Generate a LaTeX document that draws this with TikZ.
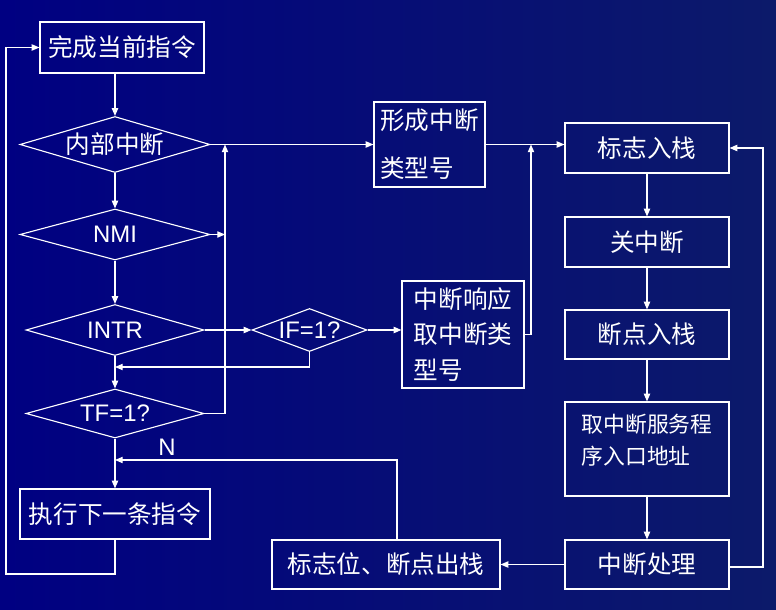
\documentclass[tikz,border=0pt]{standalone}
\usepackage{fontspec}
\setmainfont{Liberation Sans}
\newfontfamily\cjk{Noto Sans CJK SC}
\usetikzlibrary{shapes.geometric,arrows.meta}
\definecolor{slideNavy}{RGB}{0,0,130}
\definecolor{slideDusk}{RGB}{12,26,106}
\tikzset{
  stepBox/.style={draw=white,line width=0.8pt,text=white,inner sep=0pt,font=\cjk\fontsize{17.5}{20}\selectfont},
  testDiamond/.style={diamond,draw=white,line width=0.8pt,text=white,inner sep=0pt,font=\fontsize{17}{20}\selectfont},
  flowArrow/.style={draw=white,line width=0.8pt,-{Triangle[length=5.5pt,width=4.5pt]}},
  flowLine/.style={draw=white,line width=0.8pt}
}

\begin{document}
\begin{tikzpicture}[x=1cm,y=1cm]
\path[use as bounding box] (0,0) rectangle (19.40,-15.25);
\shade[left color=slideNavy,right color=slideDusk] (0,0) rectangle (19.40,-15.25);

% colonne des tests
\node[stepBox,minimum width=4.10cm,minimum height=1.275cm] (done) at (3.05,-1.1875) {完成当前指令};
\node[testDiamond,font=\cjk\fontsize{17.5}{20}\selectfont,minimum width=4.75cm,minimum height=1.40cm,shape aspect=3.39] (inner) at (2.875,-3.6125) {内部中断};
\node[testDiamond,minimum width=4.75cm,minimum height=1.275cm,shape aspect=3.73] (nmi) at (2.875,-5.8625) {NMI};
\node[testDiamond,minimum width=4.45cm,minimum height=1.275cm,shape aspect=3.49] (intr) at (2.875,-8.25) {INTR};
\node[testDiamond,minimum width=4.45cm,minimum height=1.225cm,shape aspect=3.63] (tf) at (2.875,-10.3375) {TF=1?};
\node[stepBox,minimum width=4.75cm,minimum height=1.25cm] (exec) at (2.875,-12.85) {执行下一条指令};
\node[text=white,font=\fontsize{17}{20}\selectfont] (labN) at (4.175,-11.175) {N};

% milieu
\node[testDiamond,minimum width=2.875cm,minimum height=1.075cm,shape aspect=2.67] (ifd) at (7.7375,-8.25) {IF=1?};
\node[stepBox,minimum width=2.775cm,minimum height=2.125cm,align=left,font=\cjk\fontsize{17.5}{34}\selectfont] (form) at (10.7375,-3.6125) {形成中断\\类型号};
\node[stepBox,minimum width=3.05cm,minimum height=2.675cm,align=left,font=\cjk\fontsize{17.5}{25.5}\selectfont] (resp) at (11.575,-8.3625) {中断响应\\取中断类\\型号};
\node[stepBox,minimum width=5.70cm,minimum height=1.225cm] (pop) at (9.65,-14.1125) {标志位、断点出栈};

% colonne de droite
\node[stepBox,minimum width=4.10cm,minimum height=1.25cm] (pushFlag) at (16.175,-3.70) {标志入栈};
\node[stepBox,minimum width=4.10cm,minimum height=1.25cm] (cli) at (16.175,-6.05) {关中断};
\node[stepBox,minimum width=4.10cm,minimum height=1.225cm] (pushIP) at (16.175,-8.3625) {断点入栈};
\node[stepBox,minimum width=4.10cm,minimum height=2.35cm,align=left,text depth=0.5cm,font=\cjk\fontsize{15.5}{22.7}\selectfont] (vec) at (16.175,-11.225) {取中断服务程\\序入口地址};
\node[stepBox,minimum width=4.10cm,minimum height=1.225cm] (isr) at (16.175,-14.1125) {中断处理};

\coordinate (joinA) at (5.625,-3.6125);
\coordinate (joinB) at (13.275,-3.6125);
\coordinate (tfIn) at (2.875,-9.175);
\coordinate (execIn) at (2.875,-11.50);
\coordinate (backLeft) at (0.15,-14.35);
\coordinate (backRight) at (19.075,-14.175);

\draw[flowArrow] (inner.north |- done.south) -- (inner.north);
\draw[flowArrow] (inner) -- (nmi);
\draw[flowArrow] (nmi) -- (intr);
\draw[flowArrow] (intr) -- (tf);
\draw[flowArrow] (tf) -- (exec);
\draw[flowArrow] (intr.east) -- (ifd.west);
\draw[flowArrow] (ifd.east) -- (resp.west |- ifd.east);
\draw[flowArrow] (ifd.south) |- (tfIn);
\draw[flowArrow] (tf.east) -| (joinA);
\draw[flowArrow] (nmi.east) -- (joinA |- nmi.east);
\draw[flowArrow] (inner.east) -- (form.west |- inner.east);
\draw[flowLine] (form.east) -- (joinB);
\draw[flowArrow] (joinB) -- (pushFlag.west |- joinB);
\draw[flowArrow] (resp.east) -| (joinB);
\draw[flowArrow] (pushFlag) -- (cli);
\draw[flowArrow] (cli) -- (pushIP);
\draw[flowArrow] (pushIP) -- (vec);
\draw[flowArrow] (vec) -- (isr);
\draw[flowArrow] (isr.east |- backRight) -- (backRight) |- (pushFlag.east);
\draw[flowArrow] (isr.west) -- (pop.east);
\draw[flowArrow] ([xshift=0.275cm]pop.north) |- (execIn);
\draw[flowArrow] (exec.south) |- (backLeft) |- (done.west);
\end{tikzpicture}
\end{document}
